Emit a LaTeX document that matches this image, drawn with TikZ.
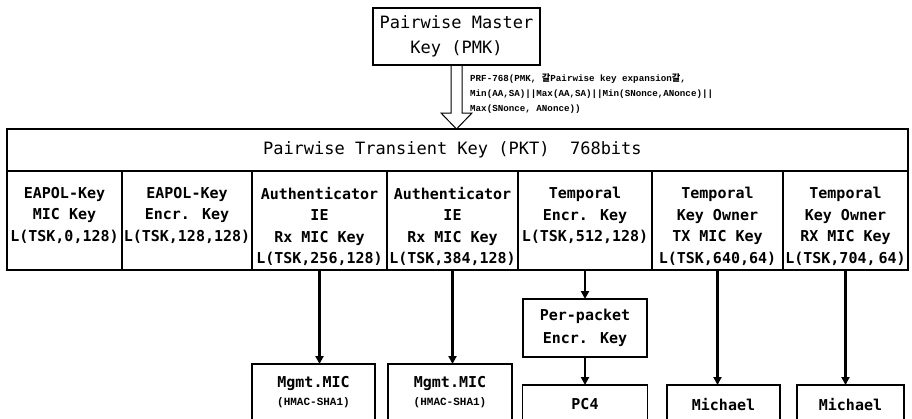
\documentclass[tikz,border=0pt]{standalone}
\usepackage{fontspec}
\usepackage{tikz}
\usetikzlibrary{arrows.meta,positioning,calc}

\newfontfamily\keyfont{DejaVu Sans Mono}
\newfontfamily\prffont{Liberation Mono}
\newfontfamily\hanfont{Noto Sans CJK KR}

\begin{document}
\begin{tikzpicture}[
    x=1pt, y=1pt,
    box/.style={
        rectangle,
        draw=black,
        line width=1.2pt,
        inner sep=0pt,
        outer sep=0pt
    },
    title/.style={
        box,
        align=center,
        font=\keyfont\fontsize{17}{25}\selectfont
    },
    cell/.style={
        box,
        minimum height=99pt
    },
    celltext/.style={
        align=center,
        inner sep=0pt,
        font=\keyfont\bfseries\fontsize{15}{21.5}\selectfont
    },
    algo/.style={
        box,
        align=center,
        font=\keyfont\bfseries\fontsize{15}{18}\selectfont
    },
    arrow/.style={-{Triangle[length=8pt,width=8pt]}, line width=2.6pt}
]
\useasboundingbox (0,0) rectangle (912,-418);
\clip (0,0) rectangle (912,-418);

% =========================================
% Master key and the PRF expansion
% =========================================
\node[title, minimum width=167pt, minimum height=57pt] (pmk) at (456.5,-36.5) {
    Pairwise Master\\
    Key (PMK)
};

\node[anchor=north west, align=left, inner sep=0pt,
      font=\prffont\bfseries\fontsize{9.2}{15}\selectfont]
      (prf) at ($(pmk.south)+(13.5,-9)$) {
    PRF-768(PMK, {\hanfont 갈}Pairwise key expansion{\hanfont 갈},\\
    Min(AA,SA)||Max(AA,SA)||Min(SNonce,ANonce)||\\
    Max(SNonce, ANonce))
};

% =========================================
% Transient key: title row and the seven parts
% =========================================
\node[title, minimum width=901pt, minimum height=42pt] (ptk) at (457.5,-150) {
    Pairwise Transient Key (PKT)~~768bits
};

\node[cell, minimum width=115pt, below right=0pt and 0pt of ptk.south west] (c1) {};
\node[cell, minimum width=130pt, right=0pt of c1] (c2) {};
\node[cell, minimum width=135pt, right=0pt of c2] (c3) {};
\node[cell, minimum width=131pt, right=0pt of c3] (c4) {};
\node[cell, minimum width=134pt, right=0pt of c4] (c5) {};
\node[cell, minimum width=131pt, right=0pt of c5] (c6) {};
\node[cell, minimum width=125pt, right=0pt of c6] (c7) {};

\node[celltext, below=16pt of c1.north] (t1) {EAPOL-Key\\MIC Key\\L(TSK,0,128)};
\node[celltext, below=16pt of c2.north] (t2) {EAPOL-Key\\Encr. Key\\L(TSK,128,128)};
\node[celltext, below=16pt of c3.north] (t3) {Authenticator\\IE\\Rx MIC Key\\L(TSK,256,128)};
\node[celltext, below=16pt of c4.north] (t4) {Authenticator\\IE\\Rx MIC Key\\L(TSK,384,128)};
\node[celltext, below=16pt of c5.north] (t5) {Temporal\\Encr. Key\\L(TSK,512,128)};
\node[celltext, below=16pt of c6.north] (t6) {Temporal\\Key Owner\\TX MIC Key\\L(TSK,640,64)};
\node[celltext, below=16pt of c7.north] (t7) {Temporal\\Key Owner\\RX MIC Key\\L(TSK,704,\hspace{3pt}64)};

% =========================================
% Algorithms that use the keys
% =========================================
\node[algo, minimum width=123pt, minimum height=56pt, below=94pt of c3, xshift=-6pt] (m1) {
    Mgmt.MIC\\
    {\prffont\fontsize{11}{11}\selectfont (HMAC-SHA1)}
};
\node[algo, minimum width=124pt, minimum height=56pt, below=94pt of c4, xshift=-2.5pt] (m2) {
    Mgmt.MIC\\
    {\prffont\fontsize{11}{11}\selectfont (HMAC-SHA1)}
};
\node[algo, minimum width=124pt, minimum height=58pt, below=29pt of c5] (pp) {
    Per-packet\\[5pt]
    Encr. Key
};
\node[algo, minimum width=125pt, minimum height=38pt, below=28pt of pp] (rc4) {PC4};
\node[algo, minimum width=113pt, minimum height=38pt, below=115pt of c6, xshift=6pt] (mi1) {Michael};
\node[algo, minimum width=107pt, minimum height=38pt, below=115pt of c7, xshift=5pt] (mi2) {Michael};

% =========================================
% Arrows
% =========================================
% hollow arrow PMK -> PTK
\draw[line width=1pt] ($(pmk.south)+(-5.5,0)$)
    -- ($(pmk.south |- ptk.north)+(-5.5,16)$)
    -- ($(pmk.south |- ptk.north)+(-15.5,16)$)
    -- (pmk.south |- ptk.north)
    -- ($(pmk.south |- ptk.north)+(15.5,16)$)
    -- ($(pmk.south |- ptk.north)+(5.5,16)$)
    -- ($(pmk.south)+(5.5,0)$);

\draw[arrow] (c3.south) -- (c3.south |- m1.north);
\draw[arrow] (c4.south) -- (c4.south |- m2.north);
\draw[arrow] (c5.south) -- (pp.north);
\draw[arrow] (pp) -- (rc4);
\draw[arrow] (c6.south) -- (c6.south |- mi1.north);
\draw[arrow] (c7.south) -- (c7.south |- mi2.north);

\end{tikzpicture}
\end{document}
